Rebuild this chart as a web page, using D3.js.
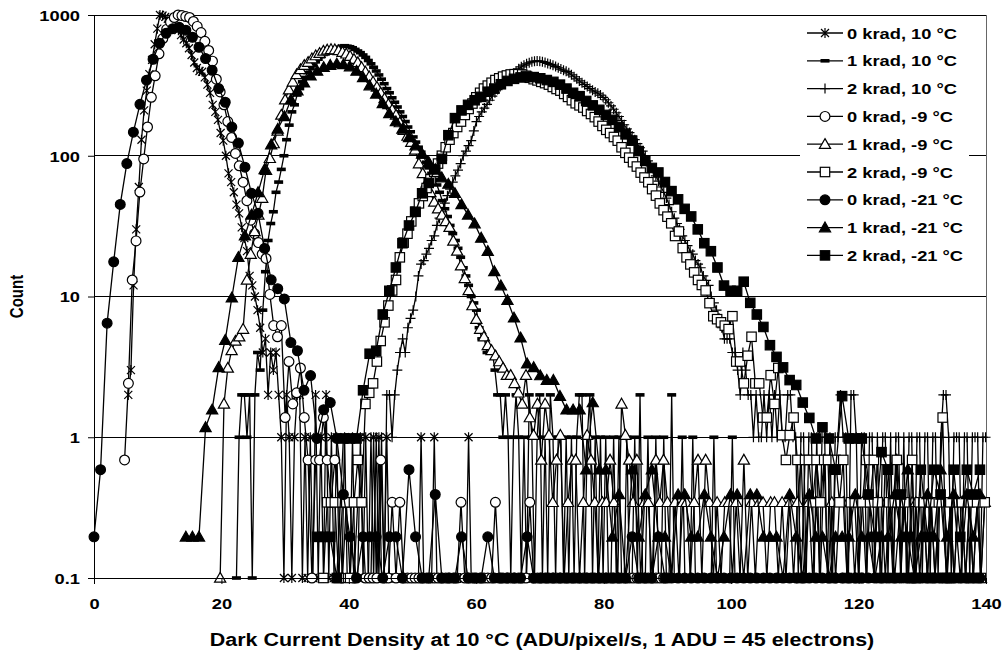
<!DOCTYPE html>
<html>
<head>
<meta charset="utf-8">
<script src="https://cdn.jsdelivr.net/npm/d3@7"></script>
<style>
  html, body { margin: 0; padding: 0; background: #fff; }
  svg { display: block; }
</style>
</head>
<body>
<svg id="chart" width="1003" height="655"></svg>
<script>
// histogram bin widths (ADU/pixel/s at 10 °C) and count scaling per temperature
const bin10 = 0.414, binM9 = 0.6, binM21 = 1.03
const unit10 = 1, unitM9 = 0.345, unitM21 = 0.196

const seriesNames = ['0 krad, 10 °C', '1 krad, 10 °C', '2 krad, 10 °C',
    '0 krad, -9 °C', '1 krad, -9 °C', '2 krad, -9 °C',
    '0 krad, -21 °C', '1 krad, -21 °C', '2 krad, -21 °C']
const xTicks = [0, 20, 40, 60, 80, 100, 120, 140]
const yTicks = [0.1, 1, 10, 100, 1000]

// counts per bin, first = index of the first bin
const k0_10_first = 13
const k0_10 = [2,3,12,30,60,130,210,290,380,480, 620,800,1000,990,970,940,900,860,820,780,
    720,670,630,580,520,460,420,400,395,360, 320,280,230,205,180,145,128,100,75,65,
    55,45,39,31,26,21,14,12,10,8, 6,4,5,2,4,3,4,2,1,
    0,2,1,0,1,2,2,0,1,0, 1,0,2,0,1,0,2,0,1,0, 1,0,0,1,0,0,1,0,
    0,1,0,1,0,0,1,0,1,0, 0,1,0,0,0,0,0,0,0,0, 0,0,0,0,1,0,0,0,0,1,
    0,0,0,0,0,0,0,0,0,0, 0,0,1,0,0,0,0,0,0,0, 0,0,0,0,0,0,0,0,0,0, 0,0,0,0,0,0,0]

const k1_10_first = 54
const k1_10 = [0,1,2,2,1,2,0,2,4,3,
    8,15,25,33,40,55,65,80,100,130, 165,205,230,270,300,335,360,390,415,440,
    465,485,505,525,540,555,565,575,585,590,
    600,605,600,595,585,570,555,540,520,500, 475,450,425,400,375,350,325,300,280,258,
    240,222,205,190,175,160,148,136,125,115,
    106,98,90,82,75,68,62,55,48,42, 37,32,28,25,22,19,16,14,12,10, 9,8,6,5,5,4,4,4,3,2, 2,1,2,1,
    0,1,2,1,0,1,0,2,1,0, 1,2,0,1,0,2,1,0,1,1, 0,1,0,1,0,1,2,2,0,1, 2,0,1,0,1,0,1,0,0,1,
    0,1,0,0,1,0,0,1,0,2, 0,0,1,0,0,1,0,0,1,0, 0,2,0,0,0,1,0,0,0,1, 0,0,0,0,0,0,0,1,0,0,
    0,0,0,0,1,0,0,0,0,0, 0,0,0]

const k2_10_first = 104
const k2_10 = [0,1,0,1,0,1,0,2,2,1, 2,3,4,5,4,6,7,8,10,14, 17,18,20,22,25,27,32,36,40,46,
    52,58,65,72,79,88,100,108,118,128, 150,175,190,205,218,232,248,265,280,295,
    310,325,340,355,370,385,400,415,428,440, 450,458,465,470,
    472,470,466,460,453,446,440,430,422,413, 405,398,388,376,364,352,340,330,320,310,
    300,292,284,278,270,260,250,238,226,214, 202,190,178,166,155,146,138,130,122,114,
    108,100,92,85,80,72,66,60,55,50, 45,40,36,33,30,27,25,23,21,20,
    18,17,16,14,13,12,10,9,8,7, 6,5,5,5,4,4,
    3,2,4,3,2,2,1,2,1,1, 2,1,2,1,2,1,2,1,1,2, 2,1,1,0,1,1,0,1,1,0, 1,0,1,1,0,1,0,1,1,2,
    1,1,0,2,2,1,0,1,1,0, 1,1,0,1,0,1,1,0,1,0, 1,1,0,1,0,1,1,0,1,1, 0,1,1,0,1,1,0,1,2,2,
    1,0,1,1,1,0,1,1,0,1, 1,1,0,1,1]

const k0_m9_first = 8
const k0_m9 = [2,7,38,72,160,275,464,754,1072,1536, 1971,2290,2580,2783,2900,2870,2826,2783,2609,2406,
    2174,1884,1623,1362,1014,823,667,507,391,301, 246,188,139,101,81,70,58,54,30,18,
    15,18,4,10,5,6,9,4,
    2,0,2,2,4,2,1,2,1,0, 1,1,0,1,1,0,0,0,0,2, 0,0,1,0,1,
    0,0,0,0,0,0,0,0,0,0, 0,0,0,0,0, 1, 0,0,0,0,0,0,0,0, 1, 0,0,0,0,0,0,0,0, 1,
    0,0,0,0,0,0,0,0,0,0, 0,0,0,0,0,0,0,0,0,0, 0,0,0,0,0,0,0,0,0,0, 0,0,0,0,0,0]

const k1_m9_first = 33
const k1_m9 = [0,5,9,12,14,15,17,38,58,84, 110,145,229,278,354,435,565,725,855,971,
    1096,1188,1275,1339,1420,1493,1551,1609,1638,1652,
    1646,1623,1580,1536,1478,1406,1333,1232,1145,1058, 971,893,812,739,672,614,565,499,441,400,
    362,319,255,217,186,159,136,122,110,99,
    90,72,61,48,39,32,25,20,17,15, 13,12,11,10,9,8,8,7,6,5, 8,4,3,5,2,5,3,1,2,3,
    0,1,2,2,0,1,3,2,1,0, 1,1,2,1,0,5,3,2,1,2, 0,1,1,0,2,1,2,1,0,1, 0,1,1,0,1,2,0,2,1,0,
    1,0,1,1,0,1,0,2,0,1, 0,1,1,0,1,1,0,1,0,1, 0,1,2,0,1,0,1,0,2,0, 1,0,1,1,0,1,0,1,1,0,
    1,0,1,1,0,1,0,2,0,1, 0,1,1,0,1,0,1,0,1,1, 0,1,0,1,1,0,1,0,1,0, 1]

const k2_m9_first = 60
const k2_m9 = [0,1,1,1,0,1,1,0,1,2, 1,5,6,7,10,14,19,25,32,38, 55,70,81,99,116,133,150,171,197,223,
    255,290,333,377,420,464,507,565,623,681, 754,812,870,913,957,1000,1029,1058,1078,1096,
    1101,1101,1096,1072,
    1038,1014,994,971,951,928,893,864,841,797, 759,719,684,661,638,603,574,545,507,472,
    443,420,394,371,333,304,281,261,243,220, 203,188,168,151,133,119,107,96,78,84,
    64,55,49,43,38,35,32,26,21,20, 19,18,17,21,10,10,7,11,15,7, 7,4,4,8,5,9,3,2,3,4, 2,
    0,2,2,1,2,1,2,2,0,2, 1,2,0,1,1,0,1,2,1,2, 1,0,2,1,1,2,1,1,0,2, 0,1,1,0,1,0,1,4,0,1,
    0,1,1,0,1,0,1,0,1]

const k0_m21_first = 0
const k0_m21 = [1,3,33,90,230,449,750,1184,1755,2474, 3214,3786,4082,4173,3980,3546,3010,2500,2066,1531,
    1224,816,628,423,276,199,112,67,58,49, 24,21,11,14,5,8,9,5,
    2,1,0,1,1,1,0,1,1,0, 3,1,0,0,2,0,0,0,1,0,0,0,1,0,0,0,0,0,1,
    0,0,0,0,0,0,0,0,0,0,0,0,0,0,0, 1,0,0,0,1, 0,0,0,0,0,0,0,0,0,0,0,0,0,0,
    0,0,0,0,0,0,0,0,0,0, 0,0,0,0,0,0,0,0,0,0, 0,0,0,0,0,0,0,0,0,0, 0,0,0,0,0]

const k1_m21_first = 14
const k1_m21 = [1,1,1, 6,8,16,25,50,97,138,194,280,408,612,790,970,1276,
    1480,1684,1888,2041,2168,2245,2296,2270,2194,2041,
    1837,1607,1403,1199,1020,893,791,689,602,526,459,408,
    357,321,276,230,194,168,133,107,77,61,48,36,26,17,
    16,14,13,13,10,8,8,8,3,9,
    3,3,1,2,0,3,1,2,3,1, 1,0,2,2,1,1,2,1,0,1, 2,2,0,2,2,1,1,1,0,2, 1,0,2,1,1,0,1,1,1,2,
    1,1,0,1,1,2,1,3,0,1, 2,1,3,1,2,0,2,1,2]

const k2_m21_first = 34
const k2_m21 = [1,1,1,0, 5,5,5,11,20,21,38,56,82,122,163,204,276,327,408,
    485,714,944,1071,1173,1265,1337,1454,1531,1643, 1735,1796,1837,1862,1847,1811,1760,1709,1633,1531,
    1429,1352,1250,1163,1082,995,918,816,724,653, 551,469,418,388,332,286,250,214,189,153,
    122,107,82,61,56,56,65,
    46,38,31,23,19,16,13,12,9,7, 5,6,5,3,10,5,5,5,2,1, 4,3,0,2,1,0,3,1,3,2, 0,3,1,3,2,3]

const sx = 1.22 // the picture is stretched sideways, text too
const font = "'Liberation Sans', Arial, sans-serif"

const series = [
    { first: k0_10_first, counts: k0_10, bin: bin10, unit: unit10, marker: 'star' },
    { first: k1_10_first, counts: k1_10, bin: bin10, unit: unit10, marker: 'dash' },
    { first: k2_10_first, counts: k2_10, bin: bin10, unit: unit10, marker: 'plus' },
    { first: k0_m9_first, counts: k0_m9, bin: binM9, unit: unitM9, marker: 'circle' },
    { first: k1_m9_first, counts: k1_m9, bin: binM9, unit: unitM9, marker: 'triangle' },
    { first: k2_m9_first, counts: k2_m9, bin: binM9, unit: unitM9, marker: 'square' },
    { first: k0_m21_first, counts: k0_m21, bin: binM21, unit: unitM21, marker: 'circleF' },
    { first: k1_m21_first, counts: k1_m21, bin: binM21, unit: unitM21, marker: 'triangleF' },
    { first: k2_m21_first, counts: k2_m21, bin: binM21, unit: unitM21, marker: 'squareF' }
].map((s, k) => ({
    ...s,
    name: seriesNames[k],
    points: s.counts.map((c, i) => ({ x: (s.first + i) * s.bin, v: c * s.unit }))
}))

const svg = d3.select('#chart')
const plotLeft = 94, plotRight = 986, plotTop = 15, plotBottom = 578

const x = d3.scaleLinear().domain([0, 140]).range([plotLeft, plotRight])
const y = d3.scaleLog().domain([0.1, 1000]).range([plotBottom, plotTop])
const yv = v => y(Math.max(v, 0.1))

// gridlines
svg.append('g')
    .selectAll('line')
    .data([1, 10, 100, 1000])
    .join('line')
    .attr('x1', plotLeft).attr('x2', plotRight)
    .attr('y1', d => y(d)).attr('y2', d => y(d))
    .attr('stroke', '#000').attr('stroke-width', 1)
    .attr('shape-rendering', 'crispEdges')

svg.append('line')
    .attr('x1', plotRight).attr('x2', plotRight).attr('y1', plotTop).attr('y2', plotBottom)
    .attr('stroke', '#666').attr('shape-rendering', 'crispEdges')

const markerPath = {
    star: 'M-4,-4L4,4M-4,4L4,-4M0,-5V5',
    plus: 'M-5,0H5M0,-5V5',
    triangle: 'M0,-5.6L5.6,4.2L-5.6,4.2Z',
    triangleF: 'M0,-5.6L5.6,4.2L-5.6,4.2Z'
}

const drawMarker = (g, type, cx, cy) => {
    if (type === 'circle' || type === 'circleF') {
        g.append('circle').attr('cx', cx).attr('cy', cy).attr('r', 4.9)
            .attr('fill', type === 'circle' ? '#fff' : '#000').attr('stroke', '#000').attr('stroke-width', 1.2)
    } else if (type === 'square' || type === 'squareF') {
        g.append('rect').attr('x', cx - 4.7).attr('y', cy - 4.7).attr('width', 9.4).attr('height', 9.4)
            .attr('fill', type === 'square' ? '#fff' : '#000').attr('stroke', '#000').attr('stroke-width', 1.2)
    } else if (type === 'dash') {
        g.append('rect').attr('x', cx - 4.5).attr('y', cy - 1.8).attr('width', 9).attr('height', 3.6)
            .attr('fill', '#000')
    } else {
        g.append('path').attr('transform', `translate(${cx},${cy})`).attr('d', markerPath[type])
            .attr('fill', type === 'triangle' ? '#fff' : '#000').attr('stroke', '#000').attr('stroke-width', 1.2)
    }
}

const line = d3.line().x(d => x(d.x)).y(d => yv(d.v))

series.forEach(s => {
    const g = svg.append('g')
    g.append('path')
        .attr('d', line(s.points))
        .attr('fill', 'none')
        .attr('stroke', '#000')
        .attr('stroke-width', 1.3)
    s.points.forEach(p => drawMarker(g, s.marker, x(p.x), yv(p.v)))
})

// axes
const styleText = sel => sel
    .attr('font-family', font).attr('font-weight', 'bold').attr('font-size', 15).attr('fill', '#000')

const xAxis = svg.append('g')
    .attr('transform', `translate(0,${plotBottom})`)
    .call(d3.axisBottom(x).tickValues(xTicks).tickSize(6).tickSizeOuter(0).tickPadding(14))
xAxis.select('.domain').attr('stroke', '#000')
xAxis.selectAll('.tick line').attr('stroke', '#000')
xAxis.selectAll('.tick text').call(styleText).attr('transform', `scale(${sx},1)`)

const yAxis = svg.append('g')
    .attr('transform', `translate(${plotLeft},0)`)
    .call(d3.axisLeft(y).tickValues(yTicks).tickFormat(d => d < 1 ? '0.1' : d3.format('d')(d))
        .tickSize(6).tickSizeOuter(0).tickPadding(8))
yAxis.select('.domain').attr('stroke', '#000')
yAxis.selectAll('.tick line').attr('stroke', '#000')
yAxis.selectAll('.tick text').call(styleText)
    .attr('x', -14 / sx).attr('dy', '0.36em')
    .attr('transform', `scale(${sx},1)`)

svg.append('text')
    .attr('transform', `translate(${(plotLeft + plotRight) / 2 + 2},646) scale(${sx},1)`)
    .attr('text-anchor', 'middle')
    .call(styleText).attr('font-size', 17.6)
    .text('Dark Current Density at 10 °C (ADU/pixel/s, 1 ADU = 45 electrons)')

svg.append('text')
    .attr('transform', `translate(23,${(plotTop + plotBottom) / 2}) rotate(-90) scale(1,${sx})`)
    .attr('text-anchor', 'middle')
    .call(styleText)
    .text('Count')

// legend
const legend = svg.append('g')
legend.append('rect')
    .attr('x', 800).attr('y', 20).attr('width', 169).attr('height', 252)
    .attr('fill', '#fff')

series.forEach((s, k) => {
    const cy = 33 + k * 27.8
    legend.append('line')
        .attr('x1', 807).attr('x2', 843).attr('y1', cy).attr('y2', cy)
        .attr('stroke', '#000').attr('stroke-width', 1.3)
    drawMarker(legend, s.marker, 825, cy)
    legend.append('text')
        .attr('transform', `translate(847,${cy + 5.5}) scale(${sx},1)`)
        .call(styleText)
        .text(s.name)
})
</script>
</body>
</html>
